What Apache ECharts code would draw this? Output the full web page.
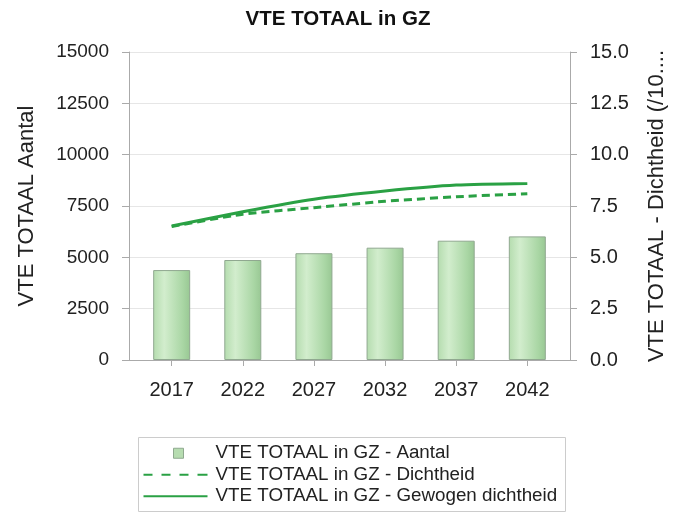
<!DOCTYPE html>
<html><head><meta charset="utf-8">
<script src="https://cdn.jsdelivr.net/npm/echarts@6/dist/echarts.min.js"></script>
<style>html,body{margin:0;padding:0;background:#fff}#c{width:676px;height:514px}</style>
</head><body><div id="c"></div>
<script>
const years = [2017, 2022, 2027, 2032, 2037, 2042];
const aantal = [4380, 4870, 5200, 5470, 5810, 6020];
const dichtheid = [6.5, 7.1, 7.42, 7.73, 7.95, 8.1];
const gewogen = [6.53, 7.22, 7.83, 8.23, 8.52, 8.6];
const names = ['VTE TOTAAL in GZ - Aantal', 'VTE TOTAAL in GZ - Dichtheid', 'VTE TOTAAL in GZ - Gewogen dichtheid'];

const FONT = '"Liberation Sans", Arial, sans-serif';
const GREEN = '#2aa144';
const chart = echarts.init(document.getElementById('c'));
chart.setOption({
  animation: false,
  textStyle: { fontFamily: FONT },
  title: { text: 'VTE TOTAAL in GZ', left: 'center', top: 4,
    textStyle: { fontFamily: FONT, fontSize: 20.5, fontWeight: 'bold', color: '#111' } },
  grid: { left: 129, right: 103, top: 52, bottom: 154 },
  xAxis: {
    type: 'value', min: 2014, max: 2045,
    axisLine: { show: true, lineStyle: { color: '#aaa' } },
    axisTick: { show: true, customValues: years, length: 6, lineStyle: { color: '#aaa' } },
    axisLabel: { customValues: years, formatter: v => String(v), color: '#222', fontSize: 20, margin: 20, fontFamily: FONT },
    splitLine: { show: false }
  },
  yAxis: [{
    type: 'value', min: 0, max: 15000, interval: 2500,
    name: 'VTE TOTAAL Aantal', nameLocation: 'middle', nameRotate: 90, nameGap: 91,
    nameTextStyle: { fontSize: 22, color: '#222', fontFamily: FONT },
    axisLine: { show: true, lineStyle: { color: '#aaa' } },
    axisTick: { show: true, length: 7, lineStyle: { color: '#aaa' } },
    axisLabel: { color: '#222', fontSize: 19, margin: 20, fontFamily: FONT, formatter: v => String(v) },
    splitLine: { show: true, lineStyle: { color: '#e6e6e6' } }
  }, {
    type: 'value', min: 0, max: 15, interval: 2.5, position: 'right',
    name: 'VTE TOTAAL - Dichtheid (/10....', nameLocation: 'middle', nameRotate: 90, nameGap: 76,
    nameTextStyle: { fontSize: 22, color: '#222', fontFamily: FONT },
    axisLine: { show: true, lineStyle: { color: '#aaa' } },
    axisTick: { show: true, length: 7, lineStyle: { color: '#aaa' } },
    axisLabel: { color: '#222', fontSize: 20, margin: 20, fontFamily: FONT, formatter: v => v.toFixed(1) },
    splitLine: { show: false }
  }],
  legend: {
    orient: 'vertical', left: 143, top: 442.5, padding: 0, itemWidth: 67, itemHeight: 14, itemGap: 0,
    textStyle: { fontSize: 18.8, lineHeight: 21.5, color: '#222', fontFamily: FONT },
    data: [
      { name: names[0], icon: 'path://M0,0h0M67,0h0M67,14h0M0,14h0M30,2h10v10h-10z',
        itemStyle: { color: '#b6dcb0', borderColor: '#8fa98f', borderWidth: 1 } },
      { name: names[1], icon: 'path://M0,0h0M67,0h0M67,14h0M0,14h0M0,6h9v2h-9zM18,6h9v2h-9zM36,6h9v2h-9zM54,6h10v2h-10z',
        itemStyle: { color: GREEN, borderWidth: 0 } },
      { name: names[2], icon: 'path://M0,0h0M67,0h0M67,14h0M0,14h0M0,6h64v2h-64z',
        itemStyle: { color: GREEN, borderWidth: 0 } }
    ]
  },
  graphic: [{ type: 'rect', shape: { x: 138.5, y: 437.5, width: 427, height: 74 },
    style: { fill: 'none', stroke: '#cccccc', lineWidth: 1 }, silent: true }],
  series: [{
    name: names[0], type: 'bar', barWidth: 37,
    data: years.map((y, i) => [y, aantal[i]]),
    itemStyle: {
      color: new echarts.graphic.LinearGradient(0, 0, 1, 0, [
        { offset: 0, color: '#b4dcae' }, { offset: 0.3, color: '#d2edcd' },
        { offset: 0.8, color: '#a9d6a4' }, { offset: 1, color: '#98c793' }]),
      borderColor: '#90a890', borderWidth: 1
    }
  }, {
    name: names[1], type: 'line', yAxisIndex: 1, symbol: 'none', smooth: 0.2,
    data: years.map((y, i) => [y, dichtheid[i]]),
    lineStyle: { color: GREEN, width: 3, type: [8, 5] }, itemStyle: { color: GREEN }
  }, {
    name: names[2], type: 'line', yAxisIndex: 1, symbol: 'none', smooth: 0.2,
    data: years.map((y, i) => [y, gewogen[i]]),
    lineStyle: { color: GREEN, width: 3 }, itemStyle: { color: GREEN }
  }]
});
</script></body></html>
